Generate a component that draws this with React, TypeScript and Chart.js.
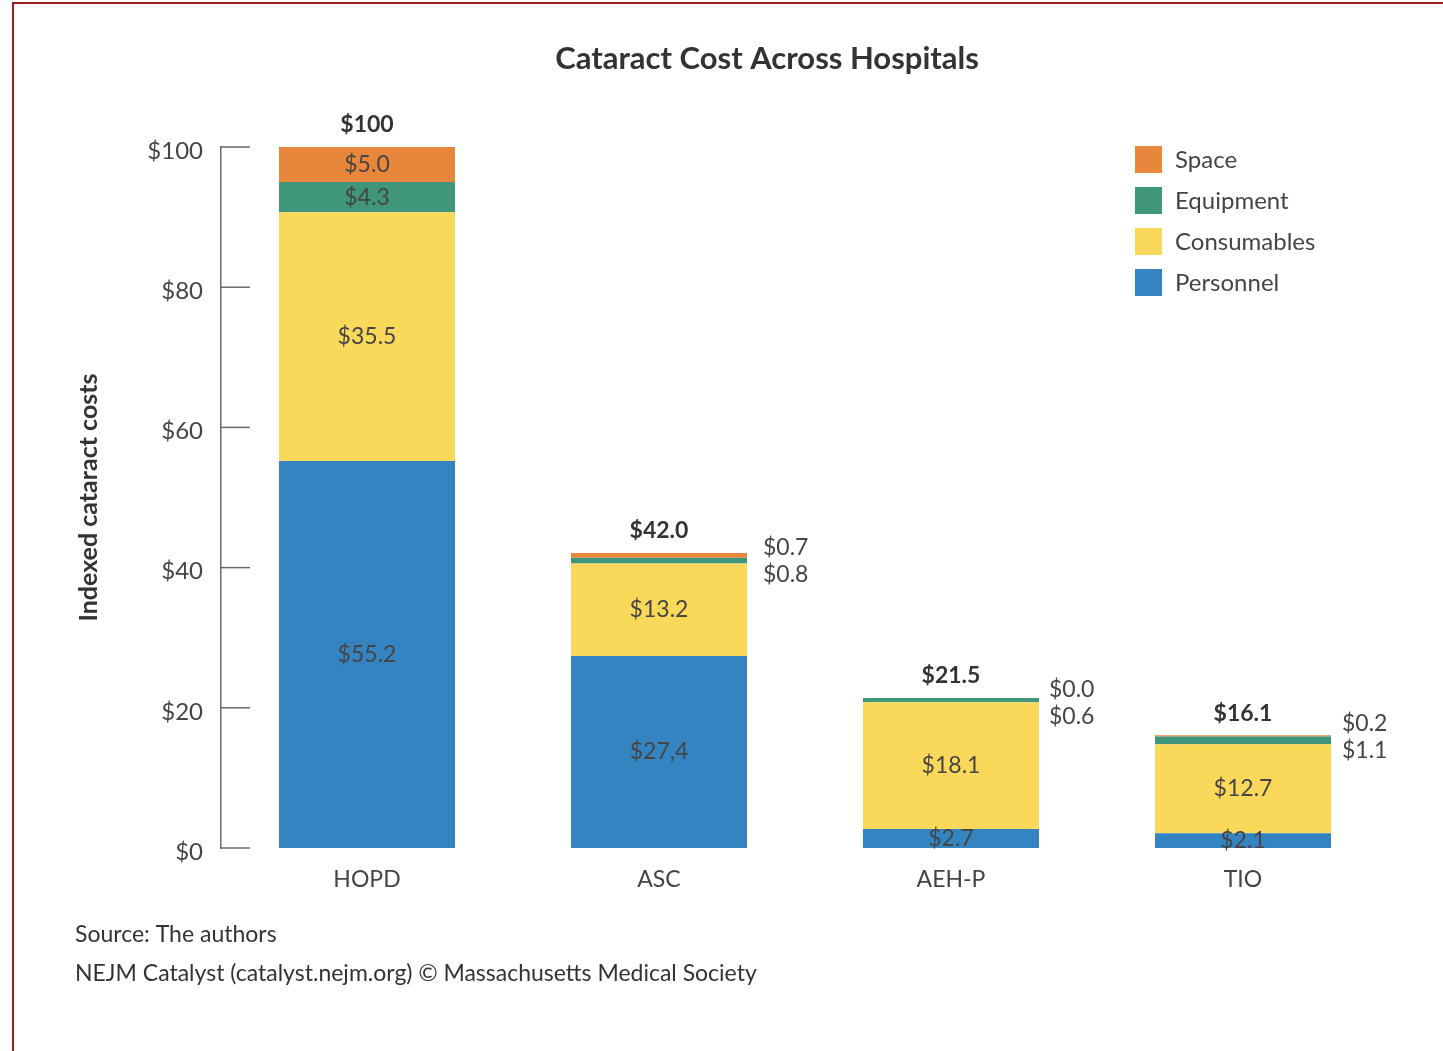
import React, { useEffect, useRef } from "react";
import { Chart, registerables } from "chart.js";

Chart.register(...registerables);

// ---- Data ----
const categories = ["HOPD", "ASC", "AEH-P", "TIO"];
const personnel = [55.2, 27.4, 2.7, 2.1];
const consumables = [35.5, 13.2, 18.1, 12.7];
const equipment = [4.3, 0.8, 0.6, 1.1];
const space = [5.0, 0.7, 0.0, 0.2];
const totalLabels = ["$100", "$42.0", "$21.5", "$16.1"];
const yTickValues = [0, 20, 40, 60, 80, 100];
const labelOverrides: Record<string, string> = { "Personnel:1": "$27,4" };

const seriesNames = ["Personnel", "Consumables", "Equipment", "Space"];
const seriesValues = [personnel, consumables, equipment, space];
const seriesColors = ["#3584C2", "#FAD85A", "#40967A", "#E8873B"];
const legendOrder = ["Space", "Equipment", "Consumables", "Personnel"];

// small nudges for the labels placed beside the short bars
const outsideNudgeY = [0, 3, 0, -4];
const outsideGapX = [16, 16, 10, 11];

const FONT = "Lato, 'Open Sans', sans-serif";
const TEXT = "#454545";
const DARK = "#333333";

const decorPlugin = {
  id: "decor",
  afterDraw(chart: any) {
    const ctx = chart.ctx as CanvasRenderingContext2D;
    const area = chart.chartArea;
    const yScale = chart.scales.y;
    ctx.save();

    // inward tick marks
    ctx.strokeStyle = "#6a6a6a";
    ctx.lineWidth = 1.5;
    for (const t of yTickValues) {
      const py = yScale.getPixelForValue(t);
      ctx.beginPath();
      ctx.moveTo(area.left, py);
      ctx.lineTo(area.left + 29, py);
      ctx.stroke();
    }

    // segment labels
    ctx.fillStyle = TEXT;
    ctx.textBaseline = "middle";
    const n = categories.length;
    for (let j = 0; j < n; j++) {
      const topEl = chart.getDatasetMeta(seriesNames.length - 1).data[j];
      const topY = topEl.y;
      for (let i = 0; i < seriesNames.length; i++) {
        const el = chart.getDatasetMeta(i).data[j];
        const v = seriesValues[i][j];
        const txt = labelOverrides[seriesNames[i] + ":" + j] ?? "$" + v.toFixed(1);
        ctx.font = `23px ${FONT}`;
        if (v >= 2) {
          ctx.textAlign = "center";
          ctx.fillText(txt, el.x, (el.y + el.base) / 2);
        } else {
          ctx.textAlign = "left";
          const x = el.x + el.width / 2 + outsideGapX[j];
          const yy = (seriesNames[i] === "Space" ? topY - 8 : topY + 19) + outsideNudgeY[j];
          ctx.fillText(txt, x, yy);
        }
      }
      // totals
      ctx.font = `bold 23px ${FONT}`;
      ctx.textAlign = "center";
      ctx.fillStyle = DARK;
      ctx.fillText(totalLabels[j], topEl.x, topY - 22);
      ctx.fillStyle = TEXT;
    }

    // title
    ctx.fillStyle = DARK;
    ctx.font = `bold 31px ${FONT}`;
    ctx.textAlign = "center";
    ctx.fillText("Cataract Cost Across Hospitals", 767, 59);

    // y axis title
    ctx.save();
    ctx.translate(89, (area.top + area.bottom) / 2);
    ctx.rotate(-Math.PI / 2);
    ctx.font = `bold 25px ${FONT}`;
    ctx.fillText("Indexed cataract costs", 0, 0);
    ctx.restore();

    // legend
    ctx.textAlign = "left";
    ctx.font = `24px ${FONT}`;
    legendOrder.forEach((name, k) => {
      const idx = seriesNames.indexOf(name);
      const top = 146 + k * 41;
      ctx.fillStyle = seriesColors[idx];
      ctx.fillRect(1135, top, 27, 27);
      ctx.fillStyle = TEXT;
      ctx.fillText(name, 1175, top + 14);
    });

    // footer
    ctx.fillStyle = DARK;
    ctx.font = `23px ${FONT}`;
    ctx.fillText("Source: The authors", 75, 935);
    ctx.fillText("NEJM Catalyst (catalyst.nejm.org) \u00A9 Massachusetts Medical Society", 75, 974);

    ctx.restore();
  },
};

export default function App() {
  const ref = useRef<HTMLCanvasElement>(null);
  useEffect(() => {
    const chart = new Chart(ref.current!, {
      type: "bar",
      data: {
        labels: categories,
        datasets: seriesNames.map((name, i) => ({
          label: name,
          data: seriesValues[i],
          backgroundColor: seriesColors[i],
          borderWidth: 0,
          barPercentage: 1,
          categoryPercentage: 176 / 292,
        })),
      },
      options: {
        responsive: false,
        animation: false,
        devicePixelRatio: 1,
        layout: { padding: { left: 0, top: 147, right: 54, bottom: 143 } },
        plugins: {
          legend: { display: false },
          tooltip: { enabled: false },
          title: { display: false },
        },
        scales: {
          x: {
            stacked: true,
            grid: { display: false, drawTicks: false },
            border: { display: false },
            ticks: { color: TEXT, font: { family: FONT, size: 23 }, padding: 18 },
            afterFit: (s: any) => {
              s.height = 60;
            },
          },
          y: {
            stacked: true,
            min: 0,
            max: 100,
            grid: { display: false, drawTicks: false },
            border: { display: true, color: "#6a6a6a", width: 1.5 },
            ticks: {
              color: TEXT,
              font: { family: FONT, size: 24 },
              padding: 18,
              labelOffset: 4,
              callback: (v: any) => "$" + v,
            },
            afterBuildTicks: (s: any) => {
              s.ticks = yTickValues.map((v) => ({ value: v }));
            },
            afterFit: (s: any) => {
              s.width = 221;
            },
          },
        },
      },
      plugins: [decorPlugin],
    } as any);
    return () => chart.destroy();
  }, []);

  return (
    <div
      style={{
        position: "fixed",
        left: 0,
        top: 0,
        width: 1443,
        height: 1051,
        overflow: "hidden",
        background: "#fff",
      }}
    >
      <div
        style={{
          position: "absolute",
          left: 12,
          top: 2,
          width: 1500,
          height: 1100,
          borderTop: "2px solid #9E1B1E",
          borderLeft: "2px solid #9E1B1E",
        }}
      />
      <canvas
        ref={ref}
        width={1443}
        height={1051}
        style={{ position: "absolute", left: 0, top: 0 }}
      />
    </div>
  );
}
